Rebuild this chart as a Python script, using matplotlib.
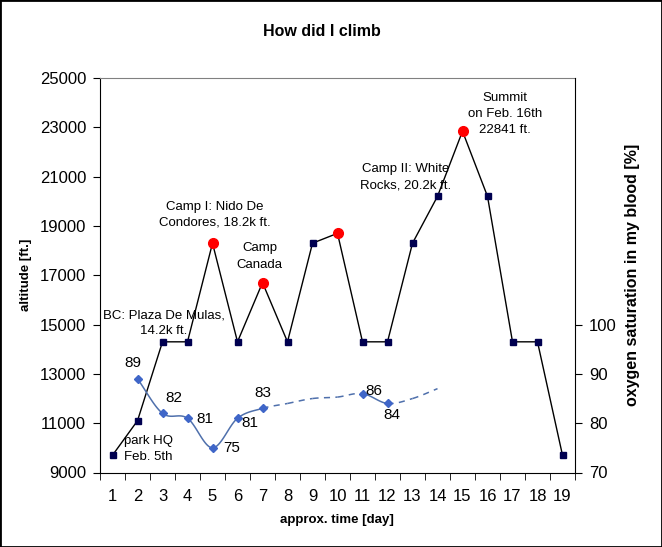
import numpy as np
import matplotlib.pyplot as plt
from matplotlib.patches import Rectangle

plt.rcParams['font.family'] = ['Liberation Sans', 'DejaVu Sans']

# altitude per day [ft.]
days = list(range(1, 20))
altitude = [9700, 11100, 14300, 14300, 18300, 14300, 16700, 14300, 18300, 18700,
            14300, 14300, 18300, 20200, 22841, 20200, 14300, 14300, 9700]
camp_days = [5, 7, 10, 15]   # red dots

# oxygen saturation [%], days 8-10 and 13-14 are only the dashed guess
o2_days = [2, 3, 4, 5, 6, 7, 8, 9, 10, 11, 12, 13, 14]
o2_values = [89, 82, 81, 75, 81, 83, 84, 85, 85.3, 86, 84, 85, 87]
o2_measured = [2, 3, 4, 5, 6, 7, 11, 12]
o2_label_offsets = [(-5, 16), (11, 15), (17, -1), (19, 0), (12, -5), (0, 15), (11, 3), (4, -12)]

notes = ['park HQ\nFeb. 5th', 'BC: Plaza De Mulas,\n14.2k ft.',
         'Camp I: Nido De\nCondores, 18.2k ft.', 'Camp\nCanada',
         'Camp II: White\nRocks, 20.2k ft.', 'Summit\non Feb. 16th\n22841 ft.']
note_x = [1.46, 3.06, 5.08, 6.88, 12.72, 16.7]
note_y = [9970, 15045, 19455, 17760, 20985, 23540]
note_ha = ['left', 'center', 'center', 'center', 'center', 'center']


def smooth_segment(ys, i, n=25):
    # cardinal (catmull-rom) piece between point i and i+1, unit spacing
    last = len(ys) - 1
    m0 = (ys[min(i + 1, last)] - ys[max(i - 1, 0)]) / (2.0 if 0 < i else 1.0)
    m1 = (ys[min(i + 2, last)] - ys[i]) / (2.0 if i + 1 < last else 1.0)
    t = np.linspace(0, 1, n)
    h00 = 2*t**3 - 3*t**2 + 1
    h10 = t**3 - 2*t**2 + t
    h01 = -2*t**3 + 3*t**2
    h11 = t**3 - t**2
    return t, h00*ys[i] + h10*m0 + h01*ys[i + 1] + h11*m1


def main():
    fig = plt.figure(figsize=(6.62, 5.47), dpi=100)
    ax = fig.add_axes([100/662, 1 - 472.5/547, 475/662, 394.5/547])

    ax.plot(days, altitude, color='black', lw=1, marker='s', ms=4.3,
            mfc='#000050', mec='#000050', zorder=3)
    ax.plot(camp_days, [altitude[d - 1] for d in camp_days], 'o', color='#ff0000',
            ms=7, zorder=4)

    ax.set_xlim(0.5, 19.5)
    ax.set_ylim(9000, 25000)
    ax.set_yticks(range(9000, 25001, 2000))
    ax.set_xticks(days)
    ax.set_xticks(np.arange(0.5, 19.6, 1), minor=True)
    ax.tick_params(axis='x', which='major', length=0, pad=12, labelsize=12)
    ax.tick_params(axis='x', which='minor', length=5, direction='out')
    ax.tick_params(axis='y', length=5, direction='out', pad=5, labelsize=12)
    ax.spines['top'].set_color('#808080')
    ax.spines['right'].set_visible(False)

    for txt, x, y, ha in zip(notes, note_x, note_y, note_ha):
        ax.text(x, y, txt, ha=ha, va='center', fontsize=9.5, linespacing=1.45)

    ax2 = ax.twinx()
    ax2.set_ylim(70, 150)
    ax2.set_yticks([70, 80, 90, 100])
    ax2.tick_params(axis='y', length=5, direction='out', pad=5, labelsize=12)
    for s in ['top', 'left', 'bottom']:
        ax2.spines[s].set_visible(False)

    blue = '#4f70ac'
    for i in range(len(o2_days) - 1):
        t, ys = smooth_segment(o2_values, i)
        xs = o2_days[i] + t
        solid = o2_days[i] in o2_measured and o2_days[i + 1] in o2_measured
        ax2.plot(xs, ys, color=blue, lw=1.1,
                 linestyle='-' if solid else (0, (4, 3.5)), zorder=2)

    mvals = [o2_values[o2_days.index(d)] for d in o2_measured]
    ax2.plot(o2_measured, mvals, 'D', color='#3f66c8', ms=4.5, zorder=3)
    for d, v, off in zip(o2_measured, mvals, o2_label_offsets):
        ax2.annotate(str(v), (d, v), xytext=off, textcoords='offset pixels',
                     ha='center', va='center', fontsize=11)

    fig.text(322/662, 1 - 31/547, 'How did I climb', ha='center', va='center',
             fontsize=11.5, weight='bold')
    fig.text(26/662, 1 - 275/547, 'altitude [ft.]', rotation=90, ha='center',
             va='center', fontsize=9.5, weight='bold')
    fig.text(337/662, 1 - 520/547, 'approx. time [day]', ha='center', va='center',
             fontsize=9.5, weight='bold')
    fig.text(632/662, 1 - 275/547, 'oxygen saturation in my blood [%]', rotation=90,
             ha='center', va='center', fontsize=11.5, weight='bold')

    fig.patches.append(Rectangle((0, 0), 1, 1, transform=fig.transFigure,
                                 fill=False, lw=2, ec='black'))
    fig.savefig('out.png', dpi=100)


if __name__ == "__main__":
    main()
